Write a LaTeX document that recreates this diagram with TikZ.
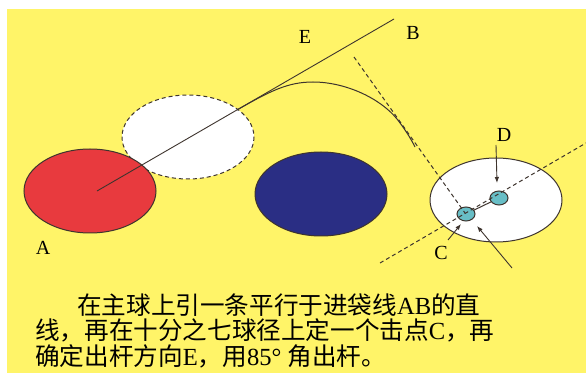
\documentclass[tikz,border=0pt]{standalone}
\usepackage{fontspec}
\setmainfont{Liberation Serif}
\newfontfamily\cjk{Noto Sans CJK SC}
\usetikzlibrary{arrows.meta}

\definecolor{fon}{RGB}{255,244,104}
\definecolor{krasnyj}{RGB}{232,58,62}
\definecolor{sinij}{RGB}{42,46,132}
\definecolor{biruza}{RGB}{104,190,198}
\definecolor{kontur}{RGB}{62,52,46}

\tikzset{
  obvod/.style={draw=kontur, line width=1pt},
  punktir/.style={draw=kontur, line width=1pt, dash pattern=on 4pt off 3pt},
  strelka/.style={draw=kontur, line width=0.9pt, -{Latex[length=6pt,width=4.5pt]}},
  metka/.style={font=\fontsize{20}{20}\selectfont, text=black, inner sep=0pt},
  podpis/.style={font=\fontsize{24.6}{24.6}\selectfont, text=black, inner sep=0pt, anchor=west}
}

\begin{document}
\begin{tikzpicture}[x=1pt,y=-1pt]

% Поле
\useasboundingbox (0,0) rectangle (586,379);
\fill[white] (0,0) rectangle (586,379);
\fill[fon] (7,9) rectangle (586,373);

% Шары и луза
\def\rx{66}
\def\ry{42}
\coordinate (A) at (90,191);
\coordinate (W) at (188,137);
\coordinate (N) at (321,194);
\coordinate (P) at (496,200);

\draw[punktir, fill=white] (W) ellipse [x radius=\rx, y radius=\ry];
\draw[obvod, fill=krasnyj] (A) ellipse [x radius=\rx, y radius=\ry];
\draw[obvod, fill=sinij] (N) ellipse [x radius=\rx, y radius=\ry];
\draw[obvod, fill=white] (P) ellipse [x radius=\rx, y radius=\ry];

% Линия AB
\coordinate (S) at (97,191);
\coordinate (Bend) at (394,19);
\draw[obvod, line width=0.9pt] (S) -- (Bend);

% Траектория
\draw[obvod] (237,110) .. controls (270,91) and (288,82) .. (313,82)
  .. controls (345,82) and (380,98) .. (397,119)
  .. controls (404,128) and (410,137) .. (415,147);

% Пунктирные прямые
\coordinate (p1) at (354,57);
\coordinate (p2) at (465,213);
\coordinate (q1) at (380,263);
\coordinate (q2) at (586,143);

% Точки удара C и D
\coordinate (C) at (466,214);
\coordinate (D) at (499,198);
\draw[obvod] (C) -- (D);
\draw[obvod, fill=biruza] (C) ellipse [x radius=9, y radius=7];
\draw[obvod, fill=biruza] (D) ellipse [x radius=9, y radius=7];

\draw[punktir] (p1) -- (p2);
\draw[punktir] (q1) -- (q2);

% Стрелки
\coordinate (d1) at (496,145);
\coordinate (d2) at (497,183);
\coordinate (c1) at (448,240);
\coordinate (c2) at (461,224);
\coordinate (k1) at (512,268);
\coordinate (k2) at (477,226);
\draw[strelka] (d1) -- (d2);
\draw[strelka] (c1) -- (c2);
\draw[strelka] (k1) -- (k2);

% Подписи
\node[metka] (labA) at (43,248) {A};
\node[metka] (labB) at (413,33) {B};
\node[metka] (labE) at (305,37) {E};
\node[metka] (labC) at (441,253) {C};
\node[metka] (labD) at (504,135) {D};

% Текст
\node[podpis] (t1) at (77,305) {{\cjk 在主球上引一条平行于进袋线}AB{\cjk 的直}};
\node[podpis] (t2) at (35,330.5) {{\cjk 线，再在十分之七球径上定一个击点}C{\cjk ，再}};
\node[podpis] (t3) at (35,356) {{\cjk 确定出杆方向}E{\cjk ，用}85° {\cjk 角出杆。}};

\end{tikzpicture}
\end{document}
